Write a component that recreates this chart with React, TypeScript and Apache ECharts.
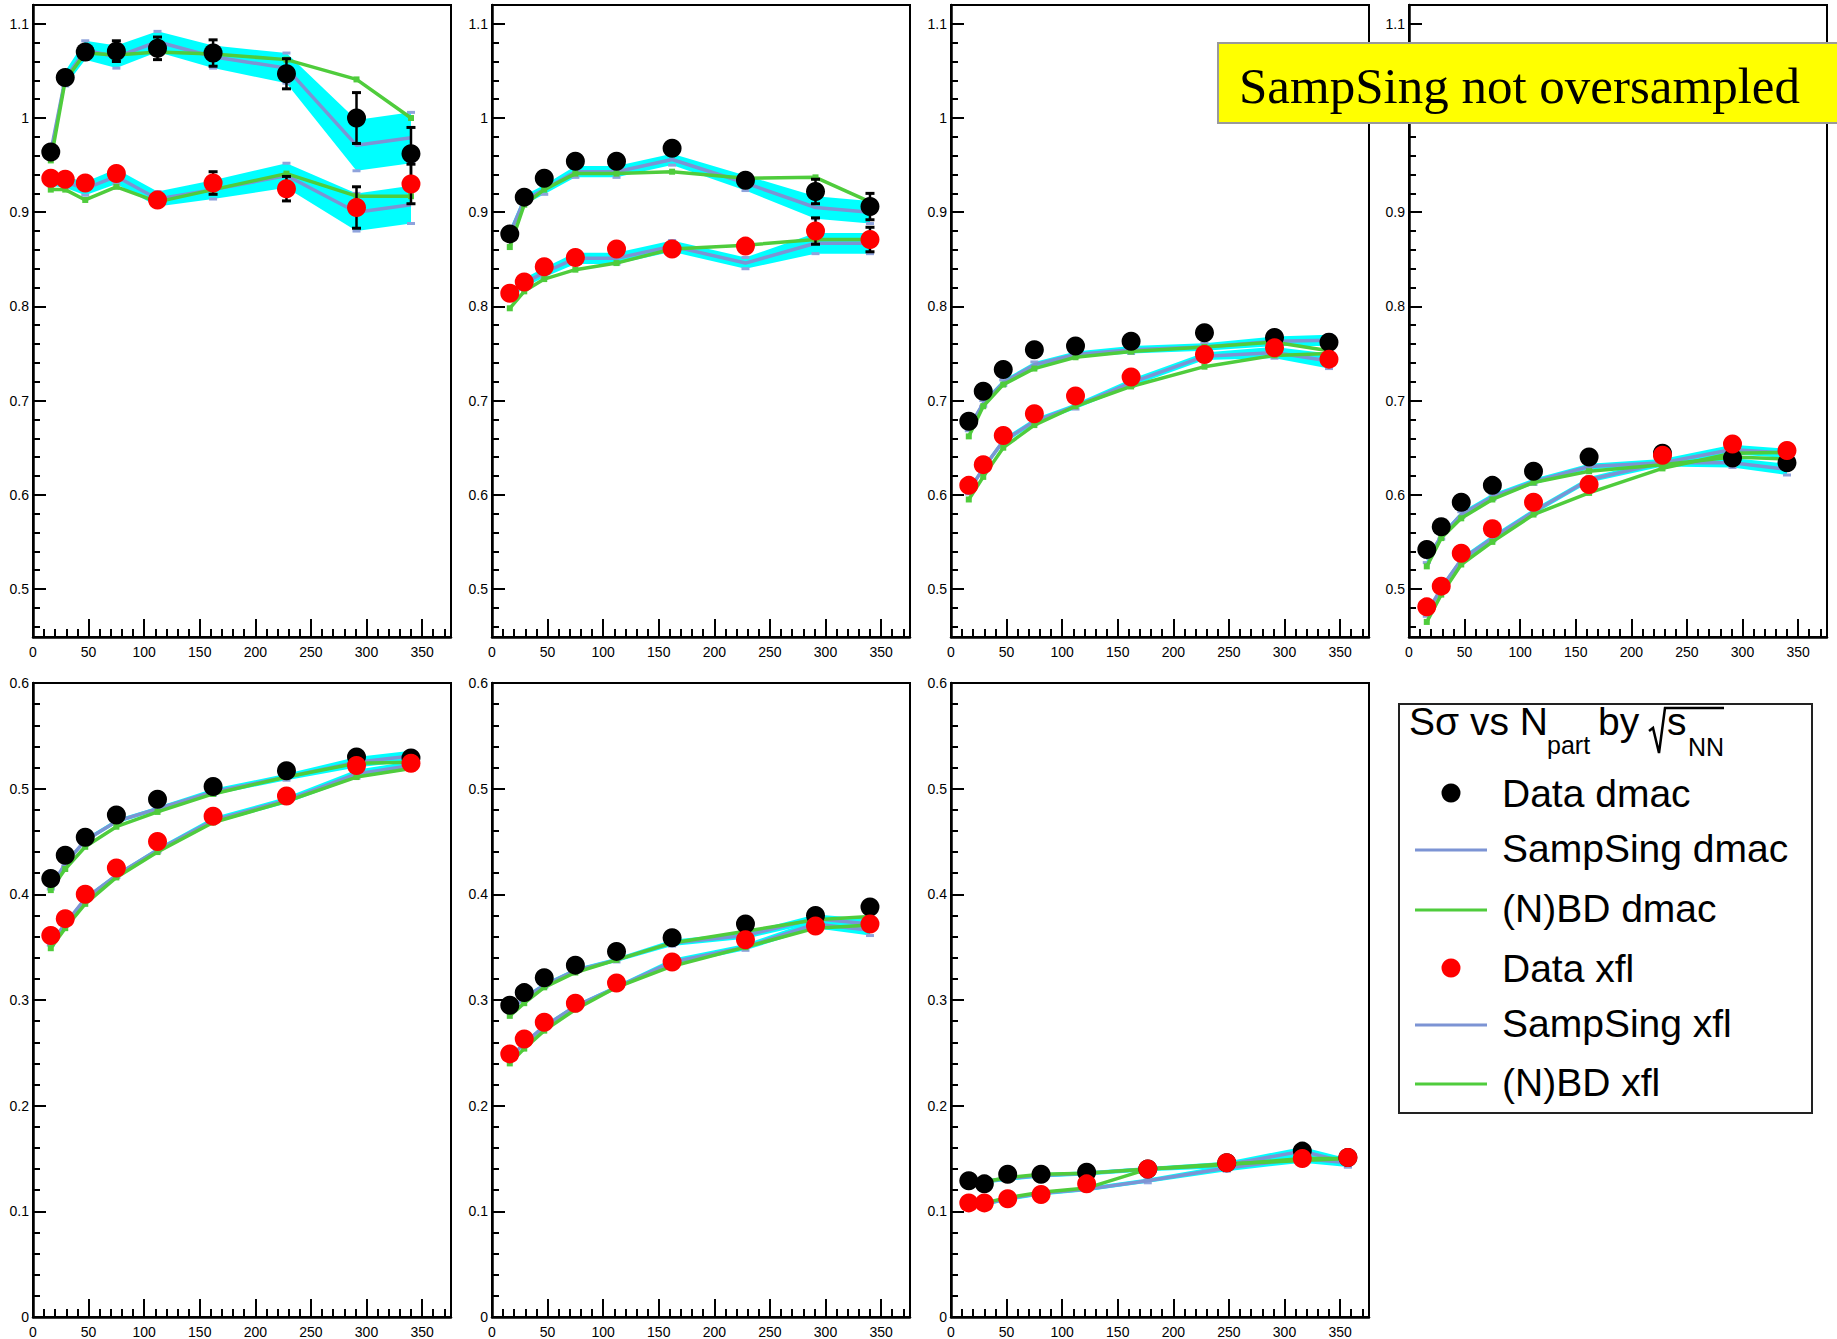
import React, { useEffect, useRef } from "react";
import * as echarts from "echarts";

// ---- N_part of the centrality bins ----
const NPART = [16, 29, 47, 75, 112, 162, 228, 291, 340];
const NPART_LOW = [16, 30, 51, 81, 122, 177, 248, 316, 357];

// ---- tick labels ----
const X_TICKS = [0, 50, 100, 150, 200, 250, 300, 350];
const Y_TICKS_TOP = [0.5, 0.6, 0.7, 0.8, 0.9, 1.0, 1.1];
const Y_TICKS_BOTTOM = [0, 0.1, 0.2, 0.3, 0.4, 0.5, 0.6];

// ---- panel 1 ----
const P1_DATA_DMAC = [0.964, 1.043, 1.07, 1.071, 1.074, 1.069, 1.047, 1.0, 0.962];
const P1_ERR_DMAC = [0.006, 0.006, 0.006, 0.011, 0.012, 0.014, 0.016, 0.027, 0.028];
const P1_SAMP_DMAC = [0.964, 1.042, 1.072, 1.065, 1.081, 1.065, 1.053, 0.971, 0.979];
const P1_BAND_DMAC = [0.006, 0.008, 0.01, 0.012, 0.011, 0.012, 0.016, 0.027, 0.027];
const P1_NBD_DMAC = [0.955, 1.04, 1.069, 1.067, 1.07, 1.068, 1.062, 1.041, 1.0];
const P1_DATA_XFL = [0.936, 0.935, 0.931, 0.941, 0.913, 0.931, 0.925, 0.905, 0.93];
const P1_ERR_XFL = [0.005, 0.005, 0.005, 0.006, 0.006, 0.012, 0.013, 0.022, 0.021];
const P1_SAMP_XFL = [0.934, 0.932, 0.925, 0.938, 0.914, 0.924, 0.939, 0.9, 0.908];
const P1_BAND_XFL = [0.006, 0.006, 0.007, 0.008, 0.008, 0.01, 0.013, 0.02, 0.02];
const P1_NBD_XFL = [0.924, 0.924, 0.913, 0.927, 0.911, 0.924, 0.941, 0.917, 0.917];

// ---- panel 2 ----
const P2_DATA_DMAC = [0.877, 0.916, 0.936, 0.954, 0.954, 0.968, 0.934, 0.922, 0.906];
const P2_ERR_DMAC = [0.004, 0.004, 0.004, 0.004, 0.004, 0.005, 0.006, 0.013, 0.014];
const P2_SAMP_DMAC = [0.877, 0.913, 0.924, 0.943, 0.943, 0.956, 0.931, 0.905, 0.9];
const P2_BAND_DMAC = [0.005, 0.005, 0.005, 0.006, 0.006, 0.006, 0.008, 0.012, 0.012];
const P2_NBD_DMAC = [0.863, 0.908, 0.924, 0.941, 0.941, 0.943, 0.936, 0.937, 0.911];
const P2_DATA_XFL = [0.814, 0.826, 0.842, 0.852, 0.861, 0.861, 0.864, 0.88, 0.871];
const P2_ERR_XFL = [0.004, 0.004, 0.004, 0.004, 0.004, 0.005, 0.006, 0.014, 0.013];
const P2_SAMP_XFL = [0.812, 0.825, 0.836, 0.851, 0.851, 0.864, 0.846, 0.867, 0.867];
const P2_BAND_XFL = [0.005, 0.005, 0.005, 0.006, 0.006, 0.006, 0.006, 0.011, 0.011];
const P2_NBD_XFL = [0.798, 0.816, 0.829, 0.839, 0.846, 0.861, 0.865, 0.871, 0.871];

// ---- panel 3 ----
const P3_DATA_DMAC = [0.678, 0.71, 0.733, 0.754, 0.758, 0.763, 0.772, 0.767, 0.762];
const P3_ERR_DMAC = [0.003, 0.003, 0.003, 0.003, 0.003, 0.003, 0.004, 0.004, 0.005];
const P3_SAMP_DMAC = [0.671, 0.697, 0.719, 0.738, 0.749, 0.754, 0.757, 0.763, 0.764];
const P3_BAND_DMAC = [0.003, 0.003, 0.003, 0.003, 0.003, 0.004, 0.004, 0.005, 0.006];
const P3_NBD_DMAC = [0.662, 0.694, 0.717, 0.734, 0.746, 0.752, 0.757, 0.762, 0.753];
const P3_DATA_XFL = [0.61, 0.632, 0.663, 0.686, 0.705, 0.725, 0.749, 0.756, 0.744];
const P3_ERR_XFL = [0.003, 0.003, 0.003, 0.003, 0.003, 0.003, 0.004, 0.004, 0.005];
const P3_SAMP_XFL = [0.604, 0.628, 0.657, 0.678, 0.694, 0.719, 0.747, 0.751, 0.742];
const P3_BAND_XFL = [0.003, 0.003, 0.003, 0.003, 0.003, 0.004, 0.004, 0.006, 0.008];
const P3_NBD_XFL = [0.595, 0.619, 0.65, 0.674, 0.694, 0.715, 0.736, 0.748, 0.75];

// ---- panel 4 ----
const P4_DATA_DMAC = [0.542, 0.566, 0.592, 0.61, 0.625, 0.64, 0.644, 0.639, 0.634];
const P4_ERR_DMAC = [0.003, 0.003, 0.003, 0.003, 0.003, 0.003, 0.003, 0.004, 0.004];
const P4_SAMP_DMAC = [0.531, 0.556, 0.579, 0.598, 0.614, 0.63, 0.634, 0.634, 0.627];
const P4_BAND_DMAC = [0.003, 0.003, 0.003, 0.003, 0.003, 0.003, 0.004, 0.005, 0.006];
const P4_NBD_DMAC = [0.524, 0.554, 0.575, 0.595, 0.613, 0.625, 0.632, 0.64, 0.638];
const P4_DATA_XFL = [0.481, 0.503, 0.538, 0.564, 0.592, 0.611, 0.642, 0.654, 0.647];
const P4_ERR_XFL = [0.003, 0.003, 0.003, 0.003, 0.003, 0.003, 0.003, 0.004, 0.004];
const P4_SAMP_XFL = [0.474, 0.501, 0.531, 0.554, 0.582, 0.616, 0.634, 0.648, 0.644];
const P4_BAND_XFL = [0.003, 0.003, 0.003, 0.003, 0.003, 0.003, 0.004, 0.005, 0.005];
const P4_NBD_XFL = [0.465, 0.494, 0.526, 0.55, 0.579, 0.602, 0.628, 0.644, 0.645];

// ---- panel 5 ----
const P5_DATA_DMAC = [0.415, 0.437, 0.454, 0.475, 0.49, 0.502, 0.517, 0.53, 0.529];
const P5_ERR_DMAC = [0.002, 0.002, 0.002, 0.002, 0.002, 0.002, 0.003, 0.003, 0.003];
const P5_SAMP_DMAC = [0.407, 0.429, 0.451, 0.469, 0.481, 0.497, 0.511, 0.525, 0.531];
const P5_BAND_DMAC = [0.002, 0.002, 0.002, 0.002, 0.002, 0.003, 0.003, 0.005, 0.005];
const P5_NBD_DMAC = [0.404, 0.424, 0.445, 0.464, 0.478, 0.495, 0.511, 0.524, 0.525];
const P5_DATA_XFL = [0.361, 0.377, 0.4, 0.425, 0.45, 0.474, 0.493, 0.522, 0.524];
const P5_ERR_XFL = [0.002, 0.002, 0.002, 0.002, 0.002, 0.002, 0.003, 0.003, 0.003];
const P5_SAMP_XFL = [0.354, 0.372, 0.396, 0.418, 0.442, 0.47, 0.489, 0.514, 0.522];
const P5_BAND_XFL = [0.002, 0.002, 0.002, 0.002, 0.002, 0.003, 0.003, 0.004, 0.004];
const P5_NBD_XFL = [0.349, 0.368, 0.391, 0.416, 0.44, 0.468, 0.488, 0.511, 0.519];

// ---- panel 6 ----
const P6_DATA_DMAC = [0.295, 0.307, 0.321, 0.333, 0.346, 0.359, 0.372, 0.38, 0.388];
const P6_ERR_DMAC = [0.002, 0.002, 0.002, 0.002, 0.002, 0.002, 0.003, 0.003, 0.003];
const P6_SAMP_DMAC = [0.29, 0.302, 0.314, 0.328, 0.338, 0.354, 0.361, 0.377, 0.372];
const P6_BAND_DMAC = [0.002, 0.002, 0.002, 0.002, 0.002, 0.003, 0.003, 0.004, 0.005];
const P6_NBD_DMAC = [0.285, 0.297, 0.312, 0.326, 0.338, 0.354, 0.365, 0.376, 0.379];
const P6_DATA_XFL = [0.249, 0.263, 0.279, 0.297, 0.316, 0.336, 0.357, 0.37, 0.372];
const P6_ERR_XFL = [0.002, 0.002, 0.002, 0.002, 0.002, 0.002, 0.003, 0.003, 0.003];
const P6_SAMP_XFL = [0.245, 0.259, 0.275, 0.294, 0.312, 0.336, 0.35, 0.372, 0.366];
const P6_BAND_XFL = [0.002, 0.002, 0.002, 0.002, 0.002, 0.003, 0.003, 0.004, 0.005];
const P6_NBD_XFL = [0.24, 0.254, 0.271, 0.291, 0.312, 0.332, 0.35, 0.368, 0.371];

// ---- panel 7 ----
const P7_DATA_DMAC = [0.129, 0.126, 0.135, 0.135, 0.137, 0.14, 0.146, 0.157, 0.151];
const P7_ERR_DMAC = [0.002, 0.002, 0.002, 0.002, 0.002, 0.002, 0.002, 0.003, 0.003];
const P7_SAMP_DMAC = [0.127, 0.128, 0.131, 0.134, 0.136, 0.14, 0.144, 0.157, 0.146];
const P7_BAND_DMAC = [0.002, 0.002, 0.002, 0.002, 0.002, 0.002, 0.003, 0.004, 0.004];
const P7_NBD_DMAC = [0.125, 0.128, 0.132, 0.135, 0.136, 0.14, 0.144, 0.15, 0.15];
const P7_DATA_XFL = [0.108, 0.108, 0.112, 0.116, 0.126, 0.14, 0.146, 0.15, 0.151];
const P7_ERR_XFL = [0.002, 0.002, 0.002, 0.002, 0.002, 0.002, 0.002, 0.003, 0.003];
const P7_SAMP_XFL = [0.105, 0.107, 0.112, 0.117, 0.121, 0.129, 0.141, 0.15, 0.146];
const P7_BAND_XFL = [0.002, 0.002, 0.002, 0.002, 0.002, 0.002, 0.003, 0.004, 0.004];
const P7_NBD_XFL = [0.106, 0.108, 0.113, 0.118, 0.122, 0.14, 0.145, 0.148, 0.15];

// ---- legend / note texts ----
const LEGEND_LABELS = ["Data dmac", "SampSing dmac", "(N)BD dmac", "Data xfl", "SampSing xfl", "(N)BD xfl"];
const NOTE_TEXT = "SampSing not oversampled";

// ---- styling ----
const FONT = '"Liberation Sans", Arial, Helvetica, sans-serif';
const SERIF = '"Liberation Serif", "Times New Roman", serif';
const CYAN = "#00ffff";
const BLUE = "#7c94d4";
const GREEN = "#4fcc3c";
const RED = "#ff0000";
const BLACK = "#000000";

type Panel = {
  xs: number[];
  top: boolean;
  dataDmac: number[]; errDmac: number[]; sampDmac: number[]; bandDmac: number[]; nbdDmac: number[];
  dataXfl: number[]; errXfl: number[]; sampXfl: number[]; bandXfl: number[]; nbdXfl: number[];
};

const PANELS: Panel[] = [
  { xs: NPART, top: true, dataDmac: P1_DATA_DMAC, errDmac: P1_ERR_DMAC, sampDmac: P1_SAMP_DMAC, bandDmac: P1_BAND_DMAC, nbdDmac: P1_NBD_DMAC, dataXfl: P1_DATA_XFL, errXfl: P1_ERR_XFL, sampXfl: P1_SAMP_XFL, bandXfl: P1_BAND_XFL, nbdXfl: P1_NBD_XFL },
  { xs: NPART, top: true, dataDmac: P2_DATA_DMAC, errDmac: P2_ERR_DMAC, sampDmac: P2_SAMP_DMAC, bandDmac: P2_BAND_DMAC, nbdDmac: P2_NBD_DMAC, dataXfl: P2_DATA_XFL, errXfl: P2_ERR_XFL, sampXfl: P2_SAMP_XFL, bandXfl: P2_BAND_XFL, nbdXfl: P2_NBD_XFL },
  { xs: NPART, top: true, dataDmac: P3_DATA_DMAC, errDmac: P3_ERR_DMAC, sampDmac: P3_SAMP_DMAC, bandDmac: P3_BAND_DMAC, nbdDmac: P3_NBD_DMAC, dataXfl: P3_DATA_XFL, errXfl: P3_ERR_XFL, sampXfl: P3_SAMP_XFL, bandXfl: P3_BAND_XFL, nbdXfl: P3_NBD_XFL },
  { xs: NPART, top: true, dataDmac: P4_DATA_DMAC, errDmac: P4_ERR_DMAC, sampDmac: P4_SAMP_DMAC, bandDmac: P4_BAND_DMAC, nbdDmac: P4_NBD_DMAC, dataXfl: P4_DATA_XFL, errXfl: P4_ERR_XFL, sampXfl: P4_SAMP_XFL, bandXfl: P4_BAND_XFL, nbdXfl: P4_NBD_XFL },
  { xs: NPART, top: false, dataDmac: P5_DATA_DMAC, errDmac: P5_ERR_DMAC, sampDmac: P5_SAMP_DMAC, bandDmac: P5_BAND_DMAC, nbdDmac: P5_NBD_DMAC, dataXfl: P5_DATA_XFL, errXfl: P5_ERR_XFL, sampXfl: P5_SAMP_XFL, bandXfl: P5_BAND_XFL, nbdXfl: P5_NBD_XFL },
  { xs: NPART, top: false, dataDmac: P6_DATA_DMAC, errDmac: P6_ERR_DMAC, sampDmac: P6_SAMP_DMAC, bandDmac: P6_BAND_DMAC, nbdDmac: P6_NBD_DMAC, dataXfl: P6_DATA_XFL, errXfl: P6_ERR_XFL, sampXfl: P6_SAMP_XFL, bandXfl: P6_BAND_XFL, nbdXfl: P6_NBD_XFL },
  { xs: NPART_LOW, top: false, dataDmac: P7_DATA_DMAC, errDmac: P7_ERR_DMAC, sampDmac: P7_SAMP_DMAC, bandDmac: P7_BAND_DMAC, nbdDmac: P7_NBD_DMAC, dataXfl: P7_DATA_XFL, errXfl: P7_ERR_XFL, sampXfl: P7_SAMP_XFL, bandXfl: P7_BAND_XFL, nbdXfl: P7_NBD_XFL },
];

// pad layout (pixels)
const PAD_LEFTS = [33, 492, 951, 1409];
const PAD_WIDTH = 418;
const TOP_ROW = { top: 5, height: 632, min: 0.449, max: 1.12 };
const BOTTOM_ROW = { top: 683, height: 634, min: 0, max: 0.6 };
const X_MAX = 376;
// the note box sits over the "1" label of the fourth pad
const HIDDEN_LABEL_PAD = 3;
const HIDDEN_LABEL_VALUE = 1.0;

function steps(from: number, to: number, step: number): number[] {
  const out: number[] = [];
  const n = Math.round((to - from) / step);
  for (let i = 0; i <= n; i++) out.push(Math.round((from + i * step) * 1000) / 1000);
  return out;
}
const notOnMajor = (v: number, major: number) => Math.abs(v / major - Math.round(v / major)) > 1e-6;
const X_MINOR = steps(10, 370, 10).filter((v) => notOnMajor(v, 50));
const Y_MINOR_TOP = steps(0.46, 1.1, 0.02).filter((v) => notOnMajor(v, 0.1));
const Y_MINOR_BOTTOM = steps(0.02, 0.58, 0.02).filter((v) => notOnMajor(v, 0.1));

const fmtY = (v: number) => String(Math.round(v * 10) / 10);

function capLine(x: number, y: number, half: number, color: string, width: number) {
  return { type: "line", shape: { x1: x - half, y1: y, x2: x + half, y2: y }, style: { stroke: color, lineWidth: width } };
}

function bandSeries(k: number, xs: number[], mid: number[], half: number[], z: number) {
  const n = xs.length;
  return {
    type: "custom",
    xAxisIndex: 2 * k,
    yAxisIndex: 2 * k,
    z,
    silent: true,
    data: xs.map((x, i) => [x, mid[i] - half[i], mid[i] + half[i]]),
    encode: { x: 0, y: [1, 2] },
    renderItem: (params: any, api: any) => {
      const children: any[] = [];
      if (params.dataIndexInside === 0) {
        const up: number[][] = [];
        const dn: number[][] = [];
        for (let j = 0; j < n; j++) {
          up.push(api.coord([api.value(0, j), api.value(2, j)]));
          dn.push(api.coord([api.value(0, j), api.value(1, j)]));
        }
        children.push({ type: "polygon", shape: { points: up.concat(dn.reverse()) }, style: { fill: CYAN } });
      }
      const hi = api.coord([api.value(0), api.value(2)]);
      const lo = api.coord([api.value(0), api.value(1)]);
      children.push(capLine(hi[0], hi[1], 4, "#8fa3dc", 3));
      children.push(capLine(lo[0], lo[1], 4, "#8fa3dc", 3));
      return { type: "group", children };
    },
  };
}

function errorSeries(k: number, xs: number[], ys: number[], errs: number[], z: number) {
  return {
    type: "custom",
    xAxisIndex: 2 * k,
    yAxisIndex: 2 * k,
    z,
    silent: true,
    data: xs.map((x, i) => [x, ys[i] - errs[i], ys[i] + errs[i]]),
    encode: { x: 0, y: [1, 2] },
    renderItem: (_params: any, api: any) => {
      const hi = api.coord([api.value(0), api.value(2)]);
      const lo = api.coord([api.value(0), api.value(1)]);
      return {
        type: "group",
        children: [
          { type: "line", shape: { x1: hi[0], y1: hi[1], x2: lo[0], y2: lo[1] }, style: { stroke: BLACK, lineWidth: 2.5 } },
          capLine(hi[0], hi[1], 4.5, BLACK, 3),
          capLine(lo[0], lo[1], 4.5, BLACK, 3),
        ],
      };
    },
  };
}

function lineSeries(k: number, xs: number[], ys: number[], color: string, marker: boolean, z: number) {
  return {
    type: "line",
    xAxisIndex: 2 * k,
    yAxisIndex: 2 * k,
    z,
    silent: true,
    data: xs.map((x, i) => [x, ys[i]]),
    symbol: marker ? "rect" : "none",
    symbolSize: 6,
    showSymbol: marker,
    lineStyle: { color, width: 3.5 },
    itemStyle: { color },
  };
}

function dotSeries(k: number, xs: number[], ys: number[], color: string, z: number) {
  return {
    type: "scatter",
    xAxisIndex: 2 * k,
    yAxisIndex: 2 * k,
    z,
    silent: true,
    data: xs.map((x, i) => [x, ys[i]]),
    symbol: "circle",
    symbolSize: 19,
    itemStyle: { color, opacity: 1 },
  };
}

function buildOption() {
  const grid: any[] = [];
  const xAxis: any[] = [];
  const yAxis: any[] = [];
  const series: any[] = [];

  PANELS.forEach((p, k) => {
    const row = p.top ? TOP_ROW : BOTTOM_ROW;
    const left = PAD_LEFTS[k % 4];
    grid.push({
      left,
      top: row.top,
      width: PAD_WIDTH,
      height: row.height,
      show: true,
      borderColor: BLACK,
      borderWidth: 2,
      backgroundColor: "transparent",
      containLabel: false,
    });

    const yMajor = p.top ? Y_TICKS_TOP : Y_TICKS_BOTTOM;
    const yMinor = p.top ? Y_MINOR_TOP : Y_MINOR_BOTTOM;
    const yLabels = k === HIDDEN_LABEL_PAD ? yMajor.filter((v) => v !== HIDDEN_LABEL_VALUE) : yMajor;

    // main x axis with labelled ticks, plus a bare axis for the minor ticks
    xAxis.push({
      type: "value",
      gridIndex: k,
      min: 0,
      max: X_MAX,
      position: "bottom",
      axisLine: { show: true, onZero: false, lineStyle: { color: BLACK, width: 2.5 } },
      axisTick: { show: true, inside: true, length: 18, customValues: X_TICKS, lineStyle: { color: BLACK, width: 2 } },
      axisLabel: { show: true, customValues: X_TICKS, fontSize: 14, fontFamily: FONT, color: BLACK, margin: 8 },
      splitLine: { show: false },
    });
    xAxis.push({
      type: "value",
      gridIndex: k,
      min: 0,
      max: X_MAX,
      position: "bottom",
      axisLine: { show: false },
      axisTick: { show: true, inside: true, length: 8, customValues: X_MINOR, lineStyle: { color: BLACK, width: 2 } },
      axisLabel: { show: false },
      splitLine: { show: false },
    });
    yAxis.push({
      type: "value",
      gridIndex: k,
      min: row.min,
      max: row.max,
      position: "left",
      axisLine: { show: true, onZero: false, lineStyle: { color: BLACK, width: 2.5 } },
      axisTick: { show: true, inside: true, length: 13, customValues: yMajor, lineStyle: { color: BLACK, width: 2 } },
      axisLabel: { show: true, customValues: yLabels, formatter: fmtY, fontSize: 14, fontFamily: FONT, color: BLACK, margin: 4 },
      splitLine: { show: false },
    });
    yAxis.push({
      type: "value",
      gridIndex: k,
      min: row.min,
      max: row.max,
      position: "left",
      axisLine: { show: false },
      axisTick: { show: true, inside: true, length: 7, customValues: yMinor, lineStyle: { color: BLACK, width: 2 } },
      axisLabel: { show: false },
      splitLine: { show: false },
    });

    series.push(bandSeries(k, p.xs, p.sampDmac, p.bandDmac, 1));
    series.push(bandSeries(k, p.xs, p.sampXfl, p.bandXfl, 1));
    series.push(lineSeries(k, p.xs, p.sampDmac, BLUE, false, 2));
    series.push(lineSeries(k, p.xs, p.sampXfl, BLUE, false, 2));
    series.push(lineSeries(k, p.xs, p.nbdDmac, GREEN, true, 3));
    series.push(lineSeries(k, p.xs, p.nbdXfl, GREEN, true, 3));
    series.push(errorSeries(k, p.xs, p.dataDmac, p.errDmac, 4));
    series.push(dotSeries(k, p.xs, p.dataDmac, BLACK, 5));
    series.push(errorSeries(k, p.xs, p.dataXfl, p.errXfl, 6));
    series.push(dotSeries(k, p.xs, p.dataXfl, RED, 7));
  });

  // legend box drawn by hand
  const rowY = [793, 848, 908, 968, 1023, 1082];
  const rowKind = [
    { kind: "dot", color: BLACK },
    { kind: "line", color: BLUE },
    { kind: "line", color: GREEN },
    { kind: "dot", color: RED },
    { kind: "line", color: BLUE },
    { kind: "line", color: GREEN },
  ];
  const legend: any[] = [
    { type: "rect", shape: { x: 1399, y: 704, width: 413, height: 409 }, style: { fill: "#fff", stroke: "#222", lineWidth: 2 }, z: 100 },
    { type: "text", x: 1409, y: 741, style: { text: "Sσ vs N", font: `39px ${FONT}`, fill: BLACK, textAlign: "left", textVerticalAlign: "bottom" }, z: 101 },
    { type: "text", x: 1547, y: 757, style: { text: "part", font: `25px ${FONT}`, fill: BLACK, textAlign: "left", textVerticalAlign: "bottom" }, z: 101 },
    { type: "text", x: 1598, y: 741, style: { text: "by", font: `39px ${FONT}`, fill: BLACK, textAlign: "left", textVerticalAlign: "bottom" }, z: 101 },
    { type: "polyline", shape: { points: [[1649, 731], [1653, 728], [1659, 753], [1665, 708], [1724, 708]] }, style: { stroke: BLACK, lineWidth: 2.5, fill: null }, z: 101 },
    { type: "text", x: 1667, y: 741, style: { text: "s", font: `39px ${FONT}`, fill: BLACK, textAlign: "left", textVerticalAlign: "bottom" }, z: 101 },
    { type: "text", x: 1688, y: 759, style: { text: "NN", font: `25px ${FONT}`, fill: BLACK, textAlign: "left", textVerticalAlign: "bottom" }, z: 101 },
  ];
  LEGEND_LABELS.forEach((label, i) => {
    const y = rowY[i];
    const rk = rowKind[i];
    if (rk.kind === "dot") {
      legend.push({ type: "circle", shape: { cx: 1451, cy: y, r: 9.5 }, style: { fill: rk.color }, z: 101 });
    } else {
      legend.push({ type: "line", shape: { x1: 1415, y1: y + 2, x2: 1487, y2: y + 2 }, style: { stroke: rk.color, lineWidth: 3 }, z: 101 });
    }
    legend.push({
      type: "text",
      x: 1502,
      y,
      style: { text: label, font: `39px ${FONT}`, fill: BLACK, textAlign: "left", textVerticalAlign: "middle" },
      z: 101,
    });
  });

  // yellow note over the last top pad
  const note: any[] = [
    { type: "rect", shape: { x: 1218, y: 43, width: 640, height: 80 }, style: { fill: "#ffff00", stroke: "#9a9a9a", lineWidth: 2 }, z: 110 },
    { type: "text", x: 1239, y: 86, style: { text: NOTE_TEXT, font: `51px ${SERIF}`, fill: BLACK, textAlign: "left", textVerticalAlign: "middle" }, z: 111 },
  ];

  return {
    animation: false,
    backgroundColor: "#ffffff",
    grid,
    xAxis,
    yAxis,
    series,
    graphic: { elements: [...legend, ...note] },
  };
}

export default function App() {
  const ref = useRef<HTMLDivElement>(null);
  useEffect(() => {
    if (!ref.current) return;
    const chart = echarts.init(ref.current, null, { renderer: "svg" });
    chart.setOption(buildOption() as any);
    return () => chart.dispose();
  }, []);
  return (
    <div
      ref={ref}
      style={{ position: "absolute", left: 0, top: 0, width: 1837, height: 1339, background: "#fff" }}
    />
  );
}
